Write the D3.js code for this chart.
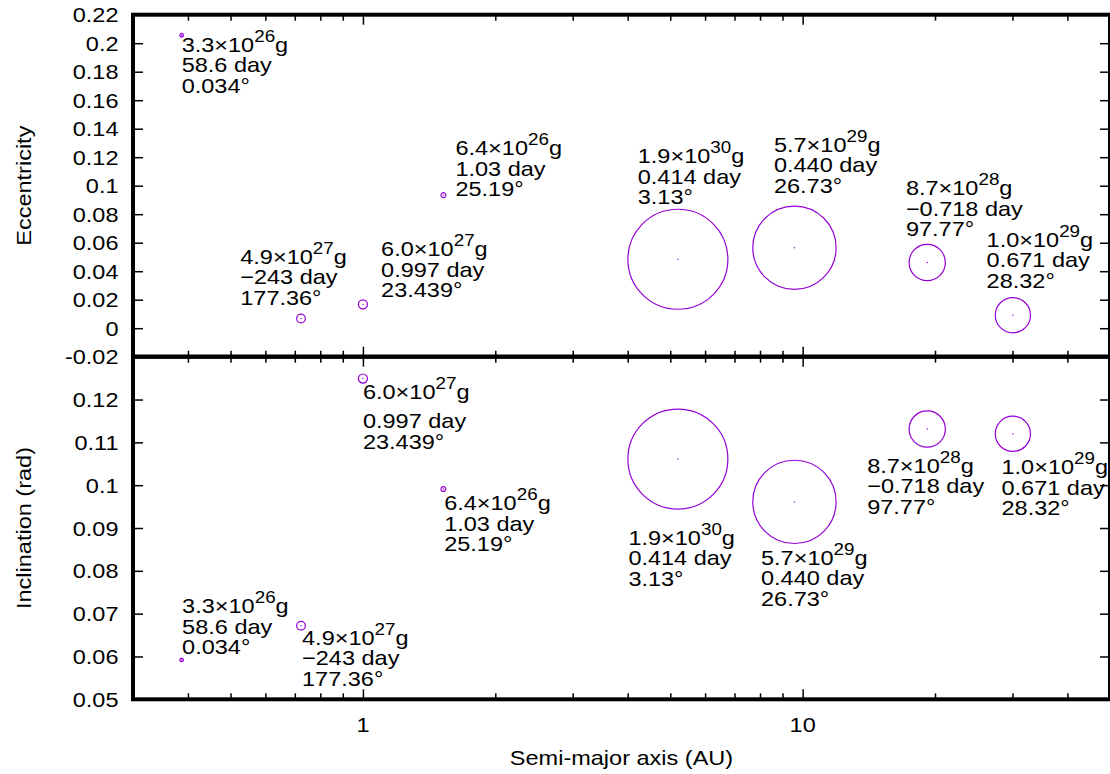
<!DOCTYPE html>
<html>
<head>
<meta charset="utf-8">
<script src="https://cdn.jsdelivr.net/npm/d3@7"></script>
<style>
  body { margin: 0; background: #fff; }
  svg { display: block; }
  text { font-family: "Liberation Sans", Arial, Helvetica, sans-serif; fill: #000; }
</style>
</head>
<body>
<svg id="chart" width="1110" height="774"></svg>
<script>
// Planet orbits: eccentricity and inclination vs semi-major axis
const planets      = ['Mercury', 'Venus', 'Earth', 'Mars', 'Jupiter', 'Saturn', 'Uranus', 'Neptune'];
const semiMajor    = [0.387, 0.723, 1.0, 1.524, 5.203, 9.58, 19.2, 30.07];
const eccentricity = [0.2056, 0.0068, 0.0167, 0.0934, 0.0484, 0.0565, 0.0461, 0.0091];
const inclination  = [0.0592, 0.0672, 0.1249, 0.0991, 0.1061, 0.0961, 0.1131, 0.1120];
const radiusKm     = [2440, 6052, 6371, 3390, 69911, 58232, 25362, 24622];

const massMant = ['3.3', '4.9', '6.0', '6.4', '1.9', '5.7', '8.7', '1.0'];
const massExp  = ['26', '27', '27', '26', '30', '29', '28', '29'];
const dayText  = ['58.6 day', '\u2212243 day', '0.997 day', '1.03 day', '0.414 day', '0.440 day', '\u22120.718 day', '0.671 day'];
const tiltText = ['0.034°', '177.36°', '23.439°', '25.19°', '3.13°', '26.73°', '97.77°', '28.32°'];

// label anchors (first line baseline) in data coordinates [a, value]
const eccLabelAt = [[0.387, 0.1939], [0.526, 0.0454], [1.10, 0.0505], [1.623, 0.1214],
                    [4.217, 0.1156], [8.604, 0.1237], [17.17, 0.0933], [26.2, 0.057]];
const incLabelAt = [[0.388, 0.0701], [0.727, 0.0627], [1.0, 0.1201], [1.530, 0.0942],
                    [4.015, 0.0861], [8.04, 0.0814], [14.02, 0.1029], [28.33, 0.1026]];
// Earth's lower label has its last two lines pushed down
const incLabelRest = [null, null, [1.0, 0.1133], null, null, null, null, null];

const eccTicks = [-0.02, 0, 0.02, 0.04, 0.06, 0.08, 0.1, 0.12, 0.14, 0.16, 0.18, 0.2, 0.22];
const incTicks = [0.05, 0.06, 0.07, 0.08, 0.09, 0.1, 0.11, 0.12];
const xMajor = [1, 10];
const xMinor = [0.4, 0.5, 0.6, 0.7, 0.8, 0.9, 2, 3, 4, 5, 6, 7, 8, 9, 20, 30, 40];

const COLOR = '#9400d3';
const FS = 21, SX = 1.12, LINE = 20.5;

const L = 133, R = 1110, T1 = 14.7, MID = 356.7, B2 = 699.3;

const svg = d3.select('#chart');

const x = d3.scaleLog().domain([0.3, 50]).range([L, R]);
const yE = d3.scaleLinear().domain([-0.02, 0.22]).range([MID, T1]);
const yI = d3.scaleLinear().domain([0.05, 0.13]).range([B2, MID]);
const rScale = d3.scaleLinear().domain([0, 69911]).range([0, 50]);

function stext(g, px, py, anchor) {
  return g.append('text')
    .attr('transform', `translate(${px},${py}) scale(${SX},1)`)
    .attr('text-anchor', anchor || 'start')
    .style('font-size', FS + 'px');
}

function drawTicks(g, y, top, bottom, ticks) {
  // y ticks on both sides, pointing inward
  g.append('g').attr('transform', `translate(${L},0)`)
    .call(d3.axisRight(y).tickValues(ticks).tickSize(10).tickFormat(''));
  g.append('g').attr('transform', `translate(${R},0)`)
    .call(d3.axisLeft(y).tickValues(ticks).tickSize(10).tickFormat(''));
  // x ticks, top and bottom, pointing inward
  [[top, d3.axisBottom], [bottom, d3.axisTop]].forEach(([py, ax]) => {
    g.append('g').attr('transform', `translate(0,${py})`)
      .call(ax(x).tickValues(xMajor).tickSize(10).tickFormat(''));
    g.append('g').attr('transform', `translate(0,${py})`)
      .call(ax(x).tickValues(xMinor).tickSize(6).tickFormat(''));
  });
  g.selectAll('.domain').remove();
  g.selectAll('.tick line').attr('stroke', '#000').attr('stroke-width', 1.5);

  ticks.forEach(v => {
    stext(g, 118.5, y(v) + 7.5, 'end').text(String(v));
  });
}

function drawLabel(g, i, px, py, rest) {
  const t1 = stext(g, px, py);
  t1.append('tspan').text(massMant[i] + '×10');
  t1.append('tspan').attr('dy', -10).style('font-size', (FS * 0.8) + 'px').text(massExp[i]);
  t1.append('tspan').attr('dy', 10).text('g');
  const p2 = rest ? rest : [px, py + LINE];
  stext(g, p2[0], p2[1]).text(dayText[i]);
  stext(g, p2[0], p2[1] + LINE).text(tiltText[i]);
}

function drawPanel(values, y, top, bottom, ticks, labelAt, labelRest) {
  const g = svg.append('g');
  drawTicks(g, y, top, bottom, ticks);

  const pts = g.append('g').selectAll('g')
    .data(planets)
    .join('g')
    .attr('transform', (d, i) => `translate(${x(semiMajor[i])},${y(values[i])})`);
  pts.append('circle')
    .attr('r', (d, i) => rScale(radiusKm[i]))
    .attr('fill', 'none')
    .attr('stroke', COLOR)
    .attr('stroke-width', 1.2);
  pts.append('circle')
    .attr('r', 0.7)
    .attr('fill', COLOR);

  planets.forEach((p, i) => {
    const a = labelAt[i];
    const rest = labelRest && labelRest[i] ? [x(labelRest[i][0]), y(labelRest[i][1])] : null;
    drawLabel(g, i, x(a[0]), y(a[1]), rest);
  });

  // border
  g.append('rect')
    .attr('x', L).attr('y', top)
    .attr('width', R - L).attr('height', bottom - top)
    .attr('fill', 'none')
    .attr('stroke', '#000')
    .attr('stroke-width', 4);
}

drawPanel(eccentricity, yE, T1, MID, eccTicks, eccLabelAt, null);
drawPanel(inclination, yI, MID, B2, incTicks, incLabelAt, incLabelRest);

// x tick labels
xMajor.forEach(v => {
  stext(svg, x(v), 731.5, 'middle').text(String(v));
});

// axis titles
stext(svg, (L + R) / 2, 765, 'middle').text('Semi-major axis (AU)');
svg.append('text')
  .attr('transform', `translate(31,${(T1 + MID) / 2}) rotate(-90) scale(${SX},1)`)
  .attr('text-anchor', 'middle')
  .style('font-size', FS + 'px')
  .text('Eccentricity');
svg.append('text')
  .attr('transform', `translate(31,${(MID + B2) / 2}) rotate(-90) scale(${SX},1)`)
  .attr('text-anchor', 'middle')
  .style('font-size', FS + 'px')
  .text('Inclination (rad)');
</script>
</body>
</html>
